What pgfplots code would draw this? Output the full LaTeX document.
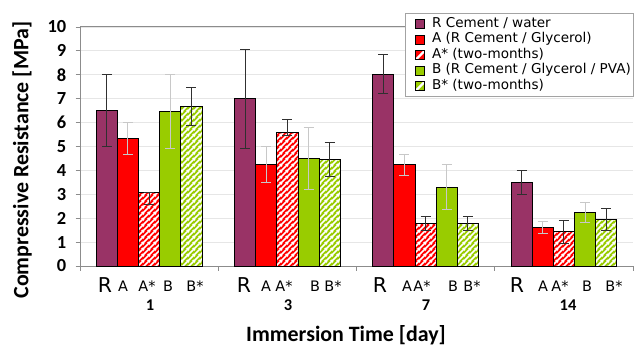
\documentclass[border=0pt]{standalone}
\usepackage{fontspec}
\setmainfont{Carlito}
\newfontfamily\legfont{DejaVu Sans}
\usepackage{pgfplots}
\pgfplotsset{compat=1.18}
\usetikzlibrary{patterns}

\definecolor{rcol}{HTML}{993366}
\definecolor{acol}{HTML}{FF0000}
\definecolor{bcol}{HTML}{99CC00}
\definecolor{axgray}{HTML}{8C8C8C}
\definecolor{gridgray}{HTML}{E6E6E6}
\definecolor{errdark}{HTML}{303030}
\definecolor{errlight}{HTML}{C8C8C8}

% wide diagonal stripes, 5.5bp apart
\pgfdeclarepatternformonly{wstripes}{\pgfpointorigin}{\pgfqpoint{5.5bp}{5.5bp}}{\pgfqpoint{5.5bp}{5.5bp}}{
  \pgfsetlinewidth{1.8bp}
  \pgfpathmoveto{\pgfqpoint{-1bp}{-1bp}}\pgfpathlineto{\pgfqpoint{6.5bp}{6.5bp}}
  \pgfpathmoveto{\pgfqpoint{-1bp}{4.5bp}}\pgfpathlineto{\pgfqpoint{1bp}{6.5bp}}
  \pgfpathmoveto{\pgfqpoint{4.5bp}{-1bp}}\pgfpathlineto{\pgfqpoint{6.5bp}{1bp}}
  \pgfusepath{stroke}}

\pgfplotsset{
  barbase/.style={ybar, bar shift=0, bar width=0.153, draw=black, line width=0.9bp,
    legend image code/.code={
      \path[draw=none, fill=none] (-9bp,0bp) -- (15bp,0bp);
      \draw[##1] (0bp,-4.5bp) rectangle (9bp,4.5bp);},
    error bars/y dir=both, error bars/y explicit},
  % solid bar of the hatched series; its key shows one white stripe
  hatchbase/.style={ybar, bar shift=0, bar width=0.153, draw=black, line width=0.9bp,
    fill=#1,
    legend image code/.code={
      \path[draw=none, fill=none] (-9bp,0bp) -- (15bp,0bp);
      \begin{scope}
        \clip (0bp,-4.5bp) rectangle (9bp,4.5bp);
        \fill[#1, draw=none] (0bp,-4.5bp) rectangle (9bp,4.5bp);
        \draw[white, line width=2.2bp] (0bp,-4.5bp) -- (9bp,4.5bp);
      \end{scope}
      \draw[black, fill=none, line width=0.9bp] (0bp,-4.5bp) rectangle (9bp,4.5bp);},
    error bars/y dir=both, error bars/y explicit},
  overlay/.style={ybar, bar shift=0, bar width=0.153, draw=black, line width=0.9bp,
    pattern=wstripes, pattern color=white, forget plot,
    error bars/y dir=both, error bars/y explicit},
  darkerr/.style={error bars/error bar style={errdark, line width=1bp},
    error bars/error mark options={rotate=90, mark size=5bp, line width=1bp, errdark}},
  lighterr/.style={error bars/error bar style={errlight, line width=1bp},
    error bars/error mark options={rotate=90, mark size=5bp, line width=1bp, errlight}},
}

% A* and B*: values with their spreads
\pgfplotstableread{
x      y     ep    em
0.500  3.07  0.00  0.50
1.500  5.60  0.55  0.15
2.500  1.77  0.30  0.30
3.500  1.43  0.47  0.47
}\Astar
\pgfplotstableread{
x      y     ep    em
0.806  6.68  0.80  0.80
1.806  4.45  0.72  0.72
2.806  1.78  0.28  0.28
3.806  1.95  0.45  0.45
}\Bstar

\begin{document}
\begin{tikzpicture}[x=1bp,y=1bp]
\useasboundingbox (0,0) rectangle (644,349);
\begin{axis}[
  at={(80bp,83bp)}, anchor=south west,
  scale only axis, width=553bp, height=239bp,
  xmin=0, xmax=4, ymin=0, ymax=10,
  axis lines*=left,
  axis line style={axgray, line width=1bp},
  xtick={0,1,2,3,4}, xticklabels={},
  ytick={0,1,...,10},
  tick align=outside, major tick length=4.5bp,
  tick style={axgray, line width=0.9bp},
  ymajorgrids, grid style={gridgray, line width=0.8bp},
  /pgf/number format/assume math mode=true,
  yticklabel style={font=\fontsize{18.5}{19}\selectfont\bfseries, inner sep=1bp, xshift=-8bp},
  clip=false,
  legend cell align=left,
  legend style={at={(1.002,1.059)}, anchor=north east,
    draw=axgray!80, line width=1.2bp, fill=white,
    inner xsep=1.5bp, inner ysep=3bp,
    font=\legfont\fontsize{13.6}{15}\selectfont,
    nodes={inner sep=1.2bp, text height=9.8bp, text depth=3bp},
    row sep=0.3bp},
]
% top edge of the plot area (the legend box sits over its right end)
\draw[axgray, line width=1bp] (rel axis cs:0,1) -- (rel axis cs:1,1);

% R Cement / water
\addplot[barbase, fill=rcol, darkerr] coordinates {
  (0.194,6.50) +- (0,1.50)
  (1.194,7.00) +- (0,2.07)
  (2.194,8.03) +- (0,0.80)
  (3.194,3.51) +- (0,0.50)
};
\addlegendentry{R Cement / water}
% A (R Cement / Glycerol)
\addplot[barbase, fill=acol, lighterr] coordinates {
  (0.347,5.33) +- (0,0.68)
  (1.347,4.23) +- (0,0.75)
  (2.347,4.23) +- (0,0.45)
  (3.347,1.63) +- (0,0.25)
};
\addlegendentry{A (R Cement / Glycerol)}
% A* (two-months): solid fill, then white stripes and spread on top
\addplot[hatchbase=acol] table[x=x, y=y] {\Astar};
\addlegendentry{A* (two-months)}
\addplot[overlay, darkerr] table[x=x, y=y, y error plus=ep, y error minus=em] {\Astar};
% B (R Cement / Glycerol / PVA)
\addplot[barbase, fill=bcol, lighterr] coordinates {
  (0.653,6.47) +- (0,1.55)
  (1.653,4.50) +- (0,1.30)
  (2.653,3.30) +- (0,0.93)
  (3.653,2.22) +- (0,0.42)
};
\addlegendentry{B (R Cement / Glycerol / PVA)}
% B* (two-months)
\addplot[hatchbase=bcol] table[x=x, y=y] {\Bstar};
\addlegendentry{B* (two-months)}
\addplot[overlay, darkerr] table[x=x, y=y, y error plus=ep, y error minus=em] {\Bstar};
\end{axis}

% sample labels under each group
\begin{scope}[every node/.style={inner sep=0pt}]
\foreach \x in {105,244,380,517}
  \node[font=\legfont\fontsize{20.5}{22}\selectfont] at (\x,64) {R};
\foreach \x/\t in {123/A,147/A*,168/B,195/B*,
                   266/A,284/A*,315/B,333/B*,
                   407/A,422/A*,453/B,472/B*,
                   543/A,560/A*,587/B,614/B*}
  \node[font=\legfont\fontsize{14.5}{16}\selectfont, anchor=base] at (\x,58) {\t};
\foreach \x/\t in {150/1,288/3,426/7,568/14}
  \node[font=\fontsize{16.5}{18}\selectfont\bfseries] at (\x,44) {\t};
\end{scope}

\node[font=\fontsize{22}{24}\selectfont\bfseries] at (346,14) {Immersion Time [day]};
\node[rotate=90, font=\fontsize{22}{24}\selectfont\bfseries] at (22,189) {Compressive Resistance [MPa]};
\end{tikzpicture}
\end{document}
